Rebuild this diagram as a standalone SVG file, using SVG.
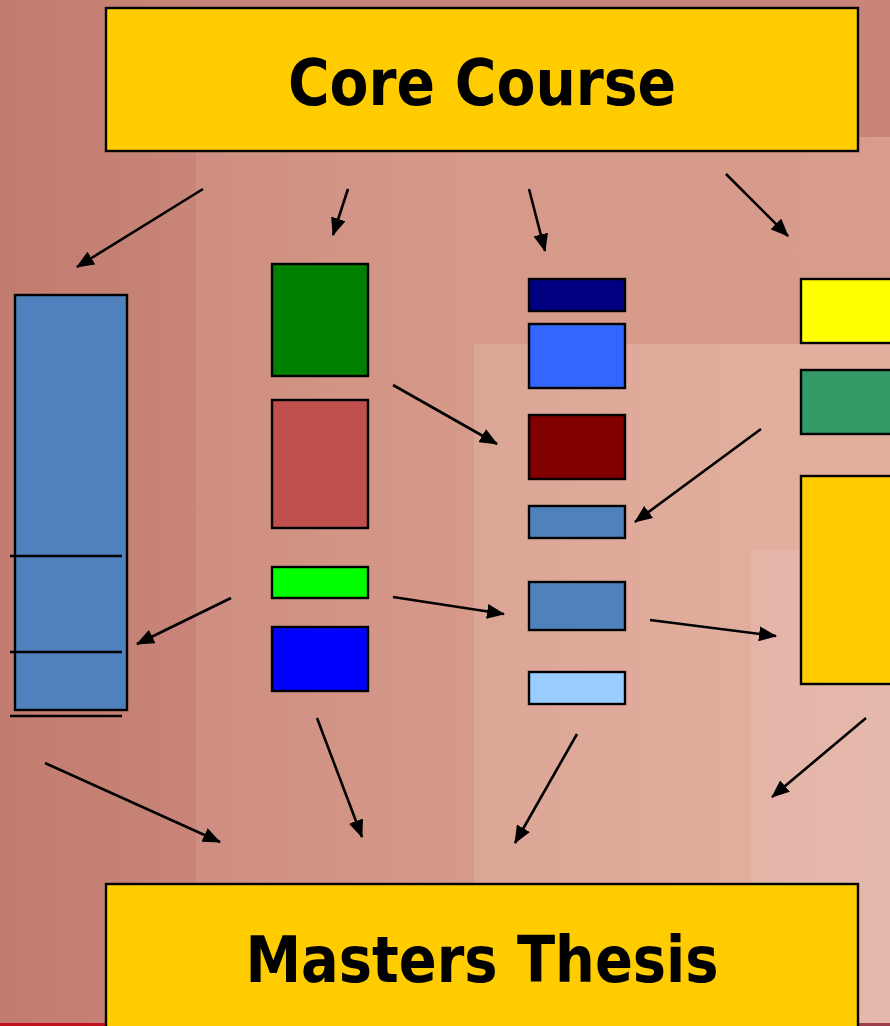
<svg xmlns="http://www.w3.org/2000/svg" width="890" height="1026" viewBox="0 0 890 1026">
<defs>
<linearGradient id="bg1" x1="0" y1="0" x2="1" y2="0"><stop offset="0" stop-color="#c27b6f"/><stop offset="0.22" stop-color="#c98579"/><stop offset="1" stop-color="#c98579"/></linearGradient>
<linearGradient id="bg2" x1="0" y1="0" x2="1" y2="0"><stop offset="0" stop-color="#ce8e81"/><stop offset="0.4" stop-color="#d69a8a"/><stop offset="1" stop-color="#d89c8c"/></linearGradient>
<linearGradient id="bg3" x1="0" y1="0" x2="1" y2="0"><stop offset="0" stop-color="#dca696"/><stop offset="0.65" stop-color="#e1ad9d"/><stop offset="1" stop-color="#e2af9f"/></linearGradient>
<linearGradient id="bg4" x1="0" y1="0" x2="1" y2="0"><stop offset="0" stop-color="#e4b4a7"/><stop offset="1" stop-color="#e6b9ae"/></linearGradient>
<marker id="ah" viewBox="0 0 18 15" refX="17" refY="7.5" markerWidth="18" markerHeight="15" markerUnits="userSpaceOnUse" orient="auto"><path d="M0,0 L18,7.5 L0,15 z" fill="#000"/></marker>
</defs>
<style>
.box{stroke:#000;stroke-width:2.4}
.title{font-family:"DejaVu Sans","Liberation Sans",sans-serif;font-weight:bold;font-stretch:condensed;font-size:64px;fill:#000;text-anchor:middle}
.conn line{stroke:#000;stroke-width:2.6;marker-end:url(#ah)}
.rule{stroke:#000;stroke-width:2.4}
</style>
<g id="background">
<rect x="0" y="0" width="890" height="1026" fill="url(#bg1)"/>
<rect x="196" y="137" width="694" height="889" fill="url(#bg2)"/>
<rect x="474" y="344" width="416" height="682" fill="url(#bg3)"/>
<rect x="751" y="550" width="139" height="476" fill="url(#bg4)"/>
<rect x="0" y="1023" width="106" height="3" fill="#c0101c"/>
<rect x="858" y="1023" width="32" height="3" fill="#9c3e4c"/>
</g>
<g id="core-course"><rect class="box" x="106" y="8" width="752" height="143" fill="#ffcc00"/><text class="title" x="482" y="105" textLength="388" lengthAdjust="spacingAndGlyphs">Core Course</text></g>
<g id="masters-thesis"><rect class="box" x="106" y="884" width="752" height="150" fill="#ffcc00"/><text class="title" x="482" y="982" textLength="473" lengthAdjust="spacingAndGlyphs">Masters Thesis</text></g>
<g id="col1-block"><rect class="box" x="15" y="295" width="112" height="415" fill="#4f81bd"/>
<line class="rule" x1="10" y1="556" x2="122" y2="556"/><line class="rule" x1="10" y1="652" x2="122" y2="652"/><line class="rule" x1="10" y1="716" x2="122" y2="716"/></g>
<g id="col2-green"><rect class="box" x="272" y="264" width="96" height="112" fill="#008000"/></g>
<g id="col2-red"><rect class="box" x="272" y="400" width="96" height="128" fill="#c0504d"/></g>
<g id="col2-lime"><rect class="box" x="272" y="567" width="96" height="31" fill="#00ff00"/></g>
<g id="col2-blue"><rect class="box" x="272" y="627" width="96" height="64" fill="#0000ff"/></g>
<g id="col3-navy"><rect class="box" x="529" y="279" width="96" height="32" fill="#000080"/></g>
<g id="col3-brightblue"><rect class="box" x="529" y="324" width="96" height="64" fill="#3366ff"/></g>
<g id="col3-maroon"><rect class="box" x="529" y="415" width="96" height="64" fill="#800000"/></g>
<g id="col3-steel1"><rect class="box" x="529" y="506" width="96" height="32" fill="#4f81bd"/></g>
<g id="col3-steel2"><rect class="box" x="529" y="582" width="96" height="48" fill="#4f81bd"/></g>
<g id="col3-light"><rect class="box" x="529" y="672" width="96" height="32" fill="#99ccff"/></g>
<g id="col4-yellow"><rect class="box" x="801" y="279" width="100" height="64" fill="#ffff00"/></g>
<g id="col4-green"><rect class="box" x="801" y="370" width="100" height="64" fill="#339966"/></g>
<g id="col4-gold"><rect class="box" x="801" y="476" width="100" height="208" fill="#ffcc00"/></g>
<g id="connectors" class="conn">
<line x1="203" y1="189" x2="77" y2="267"/>
<line x1="348" y1="189" x2="333" y2="235"/>
<line x1="529" y1="189" x2="545" y2="251"/>
<line x1="726" y1="174" x2="788" y2="236"/>
<line x1="393" y1="385" x2="497" y2="444"/>
<line x1="761" y1="429" x2="635" y2="522"/>
<line x1="231" y1="598" x2="137" y2="644"/>
<line x1="393" y1="597" x2="504" y2="614"/>
<line x1="650" y1="620" x2="776" y2="636"/>
<line x1="45" y1="763" x2="220" y2="842"/>
<line x1="317" y1="718" x2="362" y2="837"/>
<line x1="577" y1="734" x2="515" y2="843"/>
<line x1="866" y1="718" x2="772" y2="797"/>
</g>
</svg>
